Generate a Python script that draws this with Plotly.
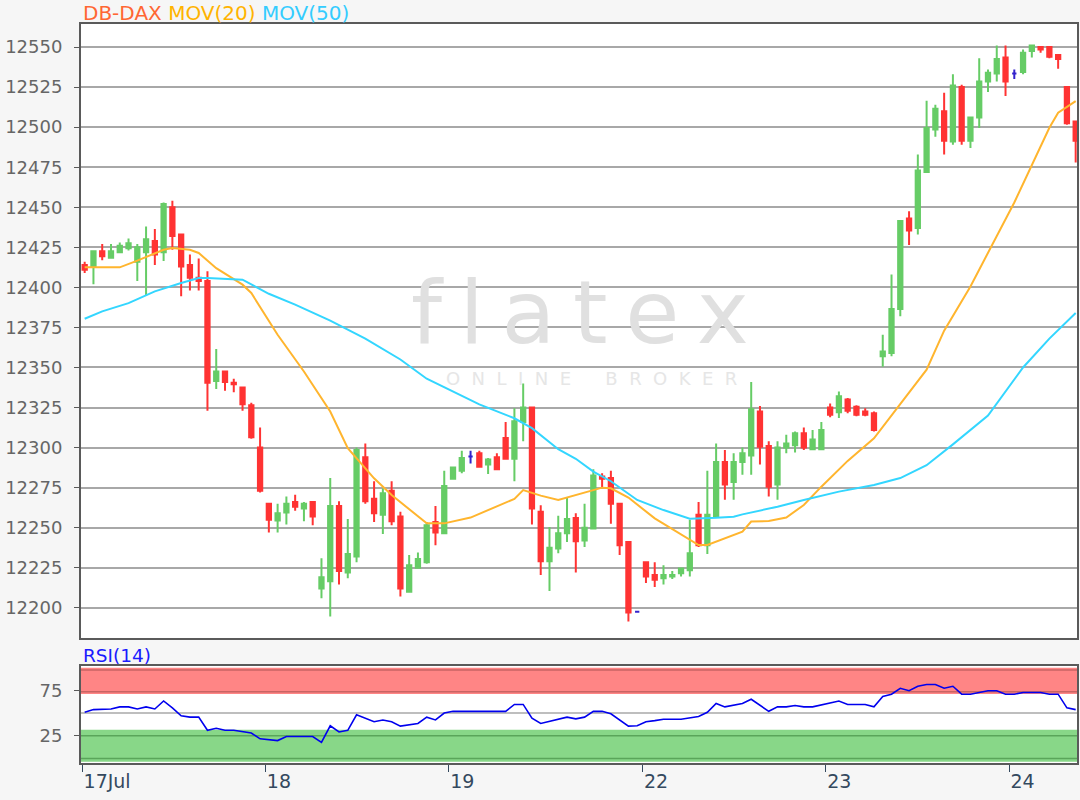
import plotly.graph_objects as go

# ---------------- data ----------------
opens = [12414, 12413, 12422.5, 12418.5, 12422, 12424.5, 12416, 12422, 12429, 12422,
         12450, 12433, 12414, 12406, 12404, 12341.5, 12347.5, 12340.5, 12337.5, 12326.5,
         12300, 12265, 12254.5, 12259.5, 12266, 12262, 12266, 12212, 12216.5, 12263.5,
         12222, 12232, 12294, 12268, 12258, 12273, 12257, 12210, 12225, 12228.5,
         12253.5, 12246.5, 12280.5, 12285.5, 12294.5, 12296.5, 12289.5, 12294, 12306, 12293,
         12316, 12325, 12260, 12229, 12237, 12246.5, 12256, 12242, 12249.5, 12282,
         12281, 12265, 12241, 12197.5, 12228.5, 12220.5, 12218.5, 12219.5, 12221.5, 12223.5,
         12258, 12239, 12257, 12291, 12278.5, 12291, 12295, 12322.5, 12301, 12277,
         12300, 12301.5, 12309, 12299, 12299, 12325, 12322, 12330, 12325.5, 12322.5,
         12321.5, 12357, 12359, 12386.5, 12443, 12437, 12472, 12498.5, 12510, 12491,
         12525, 12491.5, 12506, 12528.5, 12533.5, 12543.5, 12533.5, 12534.5, 12547.5, 12550,
         12550, 12545, 12525, 12503.5]
highs = [12416, 12423, 12427, 12427, 12428, 12430.5, 12427, 12438, 12436.5, 12453,
         12454, 12433, 12420.5, 12418, 12410, 12361.5, 12347.5, 12343, 12337.5, 12328,
         12312.5, 12265, 12265, 12269.5, 12270.5, 12266, 12266, 12231, 12281, 12266.5,
         12255.5, 12300, 12302.5, 12279, 12274.5, 12279, 12260, 12233, 12234.5, 12253.5,
         12263.5, 12285.5, 12287.5, 12298, 12298, 12298, 12293.5, 12296.5, 12316, 12324.5,
         12340, 12325, 12264, 12250.5, 12257.5, 12268.5, 12259, 12265, 12286.5, 12284,
         12285.5, 12265, 12241, 12197.5, 12228.5, 12228.5, 12226.5, 12223, 12225, 12255,
         12266, 12285.5, 12302.5, 12298.5, 12296.5, 12300, 12341, 12326, 12304, 12304,
         12308, 12310, 12312.5, 12311, 12316, 12327.5, 12335, 12331, 12326.5, 12324.5,
         12322.5, 12370.5, 12408, 12441.5, 12447.5, 12483, 12516.5, 12514, 12521.5, 12533,
         12526.5, 12506, 12543, 12536, 12551, 12551, 12536, 12548.5, 12551.5, 12550.5,
         12550.5, 12545, 12525, 12503.5]
lows = [12409, 12402, 12417, 12418, 12421.5, 12423, 12404, 12395, 12414, 12416.5,
        12423.5, 12394.5, 12398, 12398, 12323, 12336.5, 12335.5, 12334.5, 12323, 12305.5,
        12272, 12247, 12247, 12252, 12260.5, 12254, 12251.5, 12206, 12194.5, 12214.5,
        12218.5, 12228.5, 12265, 12253.5, 12246, 12251.5, 12207, 12210, 12225, 12227.5,
        12239, 12246, 12280, 12284, 12290, 12287.5, 12283.5, 12286.5, 12293, 12279,
        12304, 12252, 12220.5, 12210.5, 12234, 12241, 12222, 12238, 12249.5, 12275,
        12252.5, 12233, 12191.5, 12197.5, 12215.5, 12213, 12214.5, 12218, 12219.5, 12219.5,
        12238, 12233.5, 12257, 12267.5, 12267.5, 12283, 12283, 12289.5, 12269.5, 12267.5,
        12296.5, 12297, 12298.5, 12298.5, 12298.5, 12319, 12318.5, 12321.5, 12319.5, 12319.5,
        12310, 12350.5, 12357, 12382, 12426.5, 12433, 12472, 12494, 12483, 12489,
        12489, 12487, 12499.5, 12522, 12528.5, 12519.5, 12530, 12533, 12543.5, 12546.5,
        12543, 12536.5, 12501.5, 12478]
closes = [12411, 12422.5, 12419.5, 12422.5, 12426, 12427.5, 12425, 12430, 12420.5, 12452,
          12432, 12413, 12406, 12404, 12340.5, 12347.5, 12341, 12339.5, 12327, 12306.5,
          12273, 12255, 12259, 12265, 12263, 12265, 12257, 12219, 12263.5, 12223,
          12233.5, 12298.5, 12266.5, 12259, 12271.5, 12254, 12212, 12226.5, 12230.5, 12251.5,
          12247, 12276, 12287.5, 12293.5, 12294.5, 12288, 12292.5, 12286.5, 12293, 12316.5,
          12325, 12262, 12229, 12237.5, 12246.5, 12255.5, 12241.5, 12250, 12282.5, 12280.5,
          12265, 12239, 12197, 12197.5, 12219.5, 12217.5, 12220.5, 12220.5, 12224.5, 12234,
          12239, 12258, 12291, 12277, 12291, 12296.5, 12324, 12300.5, 12275.5, 12300,
          12302.5, 12309, 12300, 12305, 12311, 12320.5, 12332, 12323, 12320.5, 12320.5,
          12311, 12360, 12386.5, 12441.5, 12435.5, 12473, 12499.5, 12511.5, 12491.5, 12526,
          12491.5, 12506, 12528.5, 12534, 12542.5, 12528.5, 12533.5, 12546.5, 12551, 12548.5,
          12544, 12542.5, 12502.5, 12491.5]

ma20_idx = [0, 4, 6, 9, 10, 12, 13, 15, 18, 19, 22, 25, 28, 30, 33, 35, 39, 41, 44, 46,
            49, 50, 52, 54, 56, 59, 60, 62, 65, 69, 70, 71, 73, 75, 76, 78, 80, 82, 84, 87,
            90, 93, 96, 98, 101, 106, 108, 110, 111, 113]
ma20_val = [12412.5, 12412.5, 12416.7, 12423.5, 12424.6, 12423.5, 12421.5, 12412, 12401.7, 12396.5,
            12370.4, 12347.5, 12322.5, 12299.6, 12280.8, 12270.4, 12252.7, 12252.7, 12256.3, 12261,
            12268, 12273.5, 12270, 12267.3, 12270.4, 12275, 12274.6, 12268.8, 12255.8, 12242.3,
            12239.2, 12239.2, 12243.3, 12247.5, 12253.8, 12254.2, 12256.3, 12264.2, 12275.6, 12291.7,
            12305.8, 12327, 12348.6, 12373, 12400.6, 12453, 12476.7, 12499.6, 12509, 12516.3]

ma50_idx = [0, 2, 5, 8, 11, 13, 14, 18, 21, 24, 28, 32, 36, 39, 45, 49, 51, 54, 56, 58,
            60, 63, 66, 69, 72, 74, 75, 79, 82, 86, 90, 93, 96, 99, 103, 107, 110, 113]
ma50_val = [12380.4, 12385, 12390.2, 12397.5, 12402.7, 12405.8, 12405.8, 12404.8, 12396, 12389.2,
            12379.2, 12368, 12355, 12343, 12327, 12318.3, 12312.1, 12299, 12293, 12285,
            12279, 12267.3, 12261, 12255.6, 12256.2, 12256.9, 12258.3, 12263.1, 12267.3, 12272.5,
            12276.7, 12281, 12289, 12302, 12320, 12350, 12368, 12384]

rsi_idx = [0, 1, 3, 4, 5, 6, 7, 8, 9, 10, 11, 12, 13, 14, 15, 16, 17, 19, 20, 22,
           23, 26, 27, 28, 29, 30, 31, 33, 34, 35, 36, 38, 39, 40, 41, 42, 48, 49, 50, 51,
           52, 55, 56, 57, 58, 59, 60, 62, 63, 64, 65, 66, 68, 70, 71, 72, 73, 75, 76, 77,
           78, 79, 80, 81, 82, 83, 86, 87, 89, 90, 91, 92, 93, 94, 95, 96, 97, 98, 99, 100,
           101, 103, 104, 105, 106, 107, 109, 110, 111, 112, 113]
rsi_val = [50.8, 53.8, 54.5, 56.8, 56.8, 54.5, 56.8, 54.5, 63.3, 55.7, 47, 45.5, 45.5, 31, 33.3, 31, 31, 28, 21.6, 19.7,
           24.2, 24.2, 17.8, 36, 29.2, 31, 48.1, 40.5, 42.4, 40.5, 35.6, 38.6, 45.5, 42.4, 50, 51.9, 51.9, 59.5, 59.5, 44.3,
           38.6, 45.5, 43.6, 45.5, 51.9, 51.9, 49.2, 35.6, 36, 40.5, 41.7, 43.2, 43.2, 46.2, 50.8, 60.6, 56.8, 60.6, 65.2, 58.3,
           51.9, 56.8, 56.8, 58.3, 56.8, 56.8, 63.3, 59.5, 59.5, 56.8, 68.2, 70.8, 77.3, 74.6, 79.5, 81.4, 81.4, 77.3, 79.5, 70.8,
           70.8, 74.6, 74.6, 70.8, 70.8, 72.7, 72.7, 70.8, 70.8, 55.7, 53.8]

day_ticks = [-0.3, 20.6, 41.5, 63.6, 84.5, 105.4]
day_labels = ["17Jul", "18", "19", "22", "23", "24"]
price_ticks = list(range(12200, 12551, 25))
rsi_ticks = [25, 75]

# ---------------- figure ----------------
GREEN = "#66cc66"
RED = "#ff3333"
DOJI = "#3322cc"
FONT = "DejaVu Sans"

idx = list(range(len(opens)))
reg = [i for i in idx if opens[i] != closes[i]]
doj = [i for i in idx if opens[i] == closes[i]]

fig = go.Figure()
fig.add_trace(go.Candlestick(
    x=reg, open=[opens[i] for i in reg], high=[highs[i] for i in reg],
    low=[lows[i] for i in reg], close=[closes[i] for i in reg],
    increasing=dict(line=dict(color=GREEN, width=2), fillcolor=GREEN),
    decreasing=dict(line=dict(color=RED, width=2), fillcolor=RED),
    whiskerwidth=0, showlegend=False, hoverinfo="skip", xaxis="x", yaxis="y"))
fig.add_trace(go.Candlestick(
    x=doj, open=[opens[i] for i in doj], high=[highs[i] for i in doj],
    low=[lows[i] for i in doj], close=[closes[i] for i in doj],
    increasing=dict(line=dict(color=DOJI, width=2), fillcolor=DOJI),
    decreasing=dict(line=dict(color=DOJI, width=2), fillcolor=DOJI),
    whiskerwidth=0, showlegend=False, hoverinfo="skip", xaxis="x", yaxis="y"))
fig.add_trace(go.Scatter(x=ma20_idx, y=ma20_val, mode="lines",
                         line=dict(color="#ffb52e", width=2), showlegend=False,
                         hoverinfo="skip", xaxis="x", yaxis="y"))
fig.add_trace(go.Scatter(x=ma50_idx, y=ma50_val, mode="lines",
                         line=dict(color="#33d6ff", width=2), showlegend=False,
                         hoverinfo="skip", xaxis="x", yaxis="y"))
fig.add_trace(go.Scatter(x=rsi_idx, y=rsi_val, mode="lines",
                         line=dict(color="#0000ee", width=1.6), showlegend=False,
                         hoverinfo="skip", xaxis="x2", yaxis="y2"))

XR = [-0.42, 113.15]
AX_LINE = "#5a5a5a"
GRID = "#a8a8a8"
XLAB = "#34495e"

# pixel layout: main 24..637.5, rsi 665.5..762.6
T, B = 24, 37.4
H = 800 - T - B
main_dom = [(762.6 - 637.5) / H, 1.0]
rsi_dom = [0.0, (762.6 - 665.5) / H]

fig.update_layout(
    width=1080, height=800, showlegend=False,
    margin=dict(l=81, r=3, t=T, b=B, autoexpand=False),
    paper_bgcolor="#f6f6f6", plot_bgcolor="#ffffff",
    font=dict(family=FONT, size=18, color="#666666"),
    xaxis=dict(domain=[0, 1], range=XR, anchor="y", showticklabels=False,
               showgrid=False, zeroline=False, showline=True, linecolor=AX_LINE,
               linewidth=2, mirror=True, ticks="", rangeslider=dict(visible=False),
               fixedrange=True, automargin=False),
    yaxis=dict(domain=main_dom, range=[12181.25, 12564.4], anchor="x",
               tickvals=price_ticks, ticktext=[str(v) for v in price_ticks],
               showgrid=True, gridcolor=GRID, gridwidth=2, zeroline=False,
               showline=True, linecolor=AX_LINE, linewidth=2, mirror=True,
               ticks="outside", ticklen=5, tickwidth=1, tickcolor=AX_LINE,
               ticklabelstandoff=8, automargin=False,
               tickfont=dict(family=FONT, size=18, color="#666666")),
    xaxis2=dict(domain=[0, 1], range=XR, anchor="y2", tickvals=day_ticks,
                ticktext=day_labels, showgrid=False, zeroline=False,
                showline=True, linecolor=AX_LINE, linewidth=2, mirror=True,
                ticks="outside", ticklen=7, tickwidth=1, tickcolor=XLAB,
                ticklabelposition="outside right", automargin=False,
                tickfont=dict(family=FONT, size=19, color=XLAB)),
    yaxis2=dict(domain=rsi_dom, range=[-5, 102], anchor="x2",
                tickvals=rsi_ticks, ticktext=[str(v) for v in rsi_ticks],
                showgrid=False, zeroline=False, showline=True, linecolor=AX_LINE,
                linewidth=2, mirror=True, ticks="outside", ticklen=5, tickwidth=1,
                tickcolor=AX_LINE, ticklabelstandoff=8, automargin=False,
                tickfont=dict(family=FONT, size=18, color="#666666")),
)

# RSI zones
shapes = [
    dict(type="rect", xref="x2 domain", yref="y2", x0=0, x1=1, y0=71, y1=100,
         fillcolor="#ff8585", line=dict(width=0), layer="below"),
    dict(type="rect", xref="x2 domain", yref="y2", x0=0, x1=1, y0=-3.5, y1=31.5,
         fillcolor="#88d788", line=dict(width=0), layer="below"),
    dict(type="line", xref="x2 domain", yref="y2", x0=0, x1=1, y0=97.5, y1=97.5,
         line=dict(color="#c86464", width=1.5), layer="below"),
    dict(type="line", xref="x2 domain", yref="y2", x0=0, x1=1, y0=73.5, y1=73.5,
         line=dict(color="#c86464", width=1.5), layer="below"),
    dict(type="line", xref="x2 domain", yref="y2", x0=0, x1=1, y0=50, y1=50,
         line=dict(color="#a8a8a8", width=1.5), layer="below"),
    dict(type="line", xref="x2 domain", yref="y2", x0=0, x1=1, y0=25, y1=25,
         line=dict(color="#5aa55a", width=1.5), layer="below"),
    dict(type="line", xref="x2 domain", yref="y2", x0=0, x1=1, y0=0, y1=0,
         line=dict(color="#5aa55a", width=1.5), layer="below"),
]
fig.update_layout(shapes=shapes)

TS = "\u2009"
NB = "\u00a0"
wm_big = TS.join("flatex")
wm_small = (NB * 2).join("ONLINE") + NB * 6 + (NB * 2).join("BROKER")


def py(ypx):
    return (762.6 - ypx) / H


annotations = [
    dict(xref="paper", yref="paper", x=0.0015, y=py(13.5), xanchor="left", yanchor="middle",
         showarrow=False, borderpad=0,
         text=("<span style='color:#ff6633'>DB-DAX</span> "
               "<span style='color:#ffb300'>MOV(20)</span> "
               "<span style='color:#33ccff'>MOV(50)</span>"),
         font=dict(family=FONT, size=20)),
    dict(xref="paper", yref="paper", x=0.0015, y=py(655), xanchor="left", yanchor="middle",
         showarrow=False, borderpad=0, text="RSI(14)",
         font=dict(family=FONT, size=18.5, color="#1a1aff")),
    dict(xref="paper", yref="paper", x=0.501, y=py(312), xanchor="center", yanchor="middle",
         showarrow=False, text=wm_big, font=dict(family=FONT, size=88, color="#e0e0e0")),
    dict(xref="paper", yref="paper", x=0.513, y=py(378), xanchor="center", yanchor="middle",
         showarrow=False, text=wm_small, font=dict(family=FONT, size=18, color="#e6e6e6")),
]
fig.update_layout(annotations=annotations)

fig.write_html(
    "out.html",
    config={"displayModeBar": False, "staticPlot": True},
    post_script="document.body.style.margin='0';document.body.style.padding='0';"
                "document.body.style.background='#f6f6f6';",
)
